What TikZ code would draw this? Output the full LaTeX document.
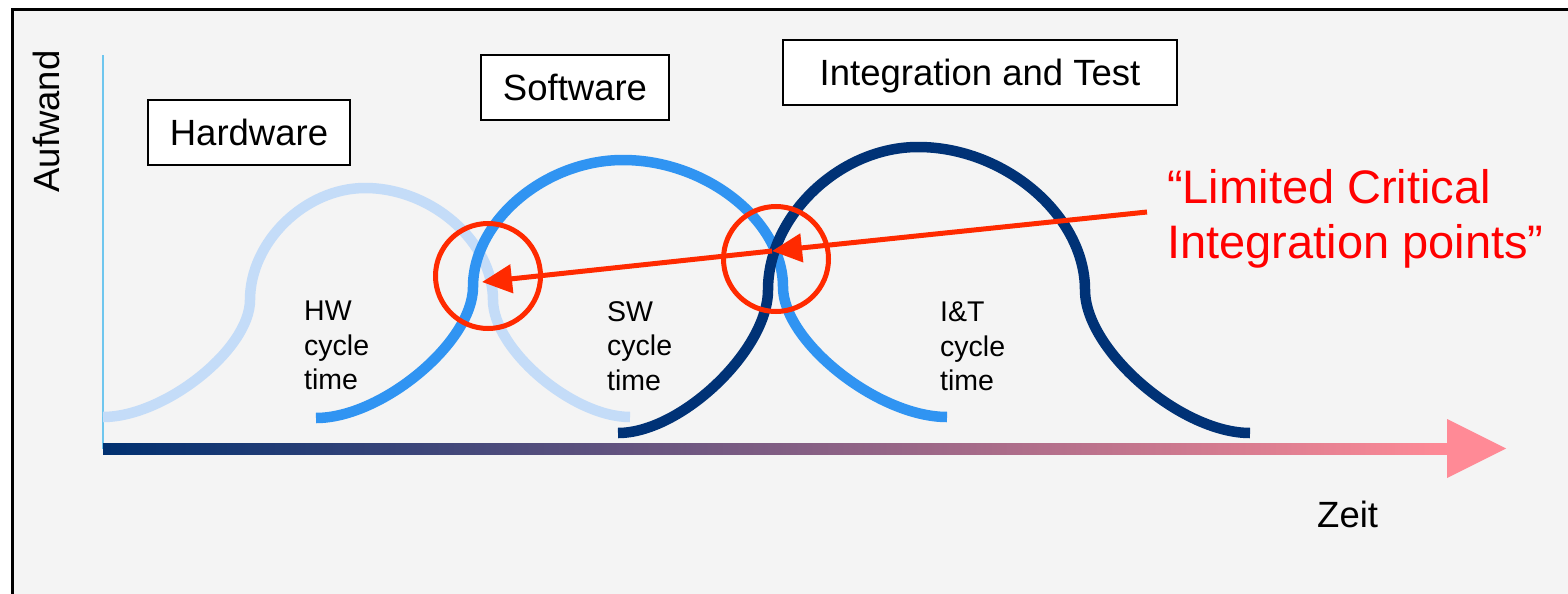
\documentclass[tikz,border=0pt]{standalone}
\usepackage{fontspec}
\setmainfont{Liberation Sans}
\usetikzlibrary{arrows.meta}
\definecolor{hwc}{HTML}{C4DCF8}
\definecolor{swc}{HTML}{3094F2}
\definecolor{itc}{HTML}{003276}
\definecolor{axc}{HTML}{6EC6EE}
\definecolor{bgc}{HTML}{F4F4F4}
\definecolor{redc}{HTML}{FF2A00}
\definecolor{pinkc}{HTML}{FF8A96}
\definecolor{navyc}{HTML}{003070}
\begin{document}
\begin{tikzpicture}[x=1pt,y=-1pt,
  titlebox/.style={draw=black, line width=2pt, fill=white, minimum height=65pt,
    inner sep=0pt, text height=26.3pt, text depth=0pt,
    font=\fontsize{36.5}{40}\selectfont},
  curve/.style={line width=10.5pt},
  cyclabel/.style={anchor=north west, inner sep=0pt, align=left,
    font=\fontsize{28.5}{34.5}\selectfont},
  redarrow/.style={draw=redc, line width=5pt, -{Triangle[length=30pt,width=28pt]}},
  redring/.style={draw=redc, line width=5pt, circle, minimum size=105pt, inner sep=0pt},
  axislabel/.style={inner sep=0pt, font=\fontsize{36.5}{40}\selectfont}
]
\useasboundingbox (0,0) rectangle (1568,594);
\clip (0,0) rectangle (1568,594);
\fill[white] (0,0) rectangle (1568,594);
\filldraw[fill=bgc, draw=black, line width=3pt] (12.5,10) rectangle (1640,650);

% axes
\coordinate (o) at (103,449);
\coordinate (ytop) at (103,55);
\coordinate (xend) at (1447,448.5);
\draw[axc, line width=2pt] (o) -- (ytop);
\shade[left color=navyc, right color=pinkc] (103,443) rectangle (1447,454);
\fill[pinkc] (1447,419) -- (1506,448.5) -- (1447,478) -- cycle;

% HW curve
\draw[hwc, curve] (103,417) .. controls (164.7,417) and (250,349.1) .. (250,300)
  .. controls (250,241.8) and (305.2,188) .. (365,188)
  .. controls (431.6,188) and (493,241.8) .. (493,300)
  .. controls (493,349.1) and (572.5,417) .. (630,417);
% SW curve
\draw[swc, curve] (316,418) .. controls (381.9,418) and (473,342) .. (473,287)
  .. controls (473,221) and (545,160) .. (623,160)
  .. controls (706.2,160) and (783,221) .. (783,287)
  .. controls (783,341.6) and (878.1,417) .. (947,417);
% I&T curve
\draw[itc, curve] (618,433) .. controls (681,433) and (768,350) .. (768,290)
  .. controls (768,215.6) and (840,147) .. (918,147)
  .. controls (1004.8,147) and (1085,215.6) .. (1085,290)
  .. controls (1085,350) and (1180.7,433) .. (1250,433);

% boxes
\node[titlebox, minimum width=202pt] (hw) at (249,132.5) {Hardware};
\node[titlebox, minimum width=188pt] (sw) at (575,87.5) {Software};
\node[titlebox, minimum width=394pt] (it) at (980,72.5) {Integration and Test};

% cycle labels
\node[cyclabel] (hwl) at (304,301) {HW\\cycle\\time};
\node[cyclabel] (swl) at (607,301) {SW\\cycle\\time};
\node[cyclabel] (itl) at (940,302) {I\&T\\cycle\\time};

% axis labels
\node[axislabel, rotate=90, anchor=base] (auf) at (59.5,121.5) {Aufwand};
\node[axislabel, anchor=base west] (zeit) at (1317,527) {Zeit};

% red rings and arrow
\node[redring] (r1) at (488,276) {};
\node[redring] (r2) at (776,259) {};
\coordinate (as) at (1147,212);
\coordinate (am) at (772,251);
\coordinate (ae) at (482,282);
\draw[redarrow] (as) -- (am);
\draw[redarrow] (am) -- (ae);

\node[anchor=north west, inner sep=0pt, text=red, align=left,
  font=\fontsize{47}{55}\selectfont] (lim) at (1167,169) {“Limited Critical\\Integration points”};
\end{tikzpicture}
\end{document}
